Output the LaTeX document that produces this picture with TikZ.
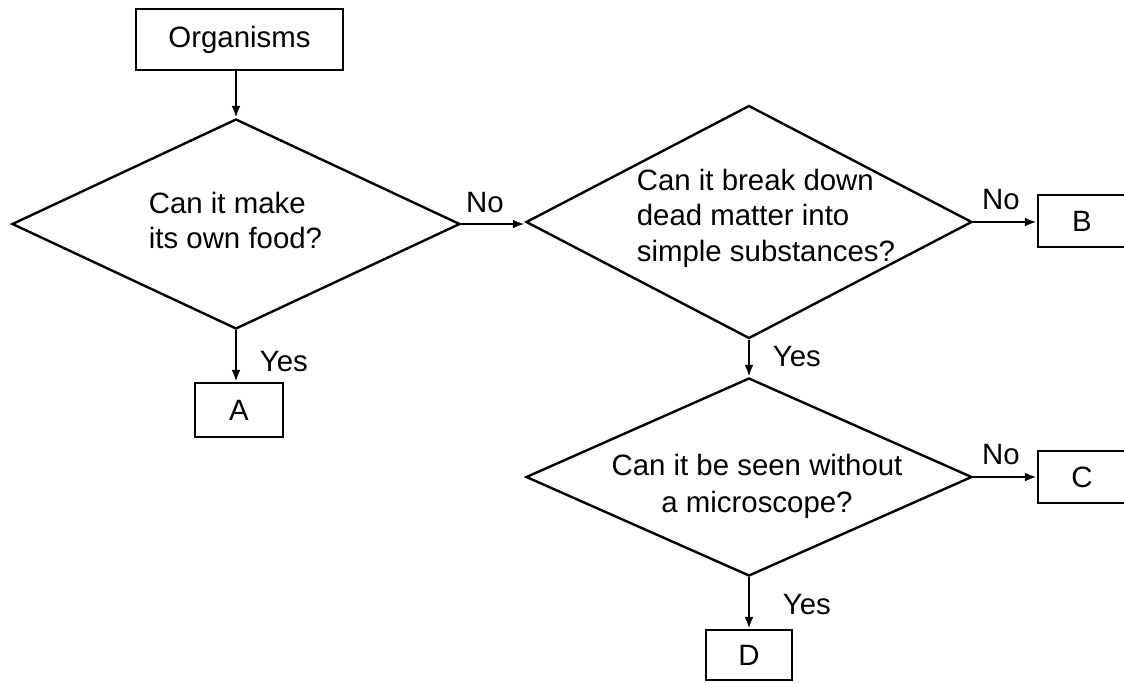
\documentclass[tikz,border=0pt]{standalone}
\usepackage{fontspec}
\setmainfont{Liberation Sans}
\usetikzlibrary{shapes.geometric,arrows.meta}

\begin{document}
\begin{tikzpicture}[x=0.5pt,y=-0.5pt,>={Latex[length=6pt,width=4.5pt]},line width=1.2pt,
  font=\fontsize{14.7}{17.5}\selectfont,
  box/.style={draw, rectangle, inner sep=0pt},
  question/.style={draw, diamond, inner sep=0pt}]

\path[use as bounding box, clip] (0,0) rectangle (1124,682);

%Kaesten
\node[box, minimum width=103.5pt, minimum height=30.5pt] (org) at (239.5,39.5) {Organisms};
\node[box, minimum width=44pt, minimum height=27pt] (a) at (239,410) {A};
\node[box, minimum width=44pt, minimum height=26pt] (b) at (1082,221) {B};
\node[box, minimum width=44pt, minimum height=26pt] (c) at (1082,477) {C};
\node[box, minimum width=43pt, minimum height=25pt] (d) at (749,655) {D};

%Fragen
\node[question, minimum width=224pt, minimum height=105pt] (q1) at (236,224) {};
\node[align=left, anchor=west] (q1txt) at (141,220) {Can it make\\its own food?};
\node[question, minimum width=223pt, minimum height=116.5pt] (q2) at (749,222) {};
\node[align=left, anchor=west, font=\fontsize{14.7}{17.75}\selectfont] (q2txt) at (629,218) {Can it break down\\dead matter into\\simple substances?};
\node[question, minimum width=223pt, minimum height=99pt] (q3) at (749,477) {};
\node[align=center, font=\fontsize{14.7}{18.5}\selectfont] (q3txt) at (757,486) {Can it be seen without\\a microscope?};

%Pfeile
\draw[->] (org.south -| q1.north) to (q1.north);
\draw[->] (q1.south) to (q1.south |- a.north);
\node[anchor=west] (yes1) at (252,362) {Yes};
\draw[->] (q1.east) to (q1.east -| q2.west);
\node (no1) at (485,203) {No};
\draw[->] (q2.east) to (q2.east -| b.west);
\node (no2) at (1001,200) {No};
\draw[->] (q2.south) to (q3.north);
\node[anchor=west] (yes2) at (765,357) {Yes};
\draw[->] (q3.east) to (c.west);
\node (no3) at (1001,455) {No};
\draw[->] (q3.south) to (d.north);
\node[anchor=west] (yes3) at (775,605) {Yes};

\end{tikzpicture}
\end{document}
